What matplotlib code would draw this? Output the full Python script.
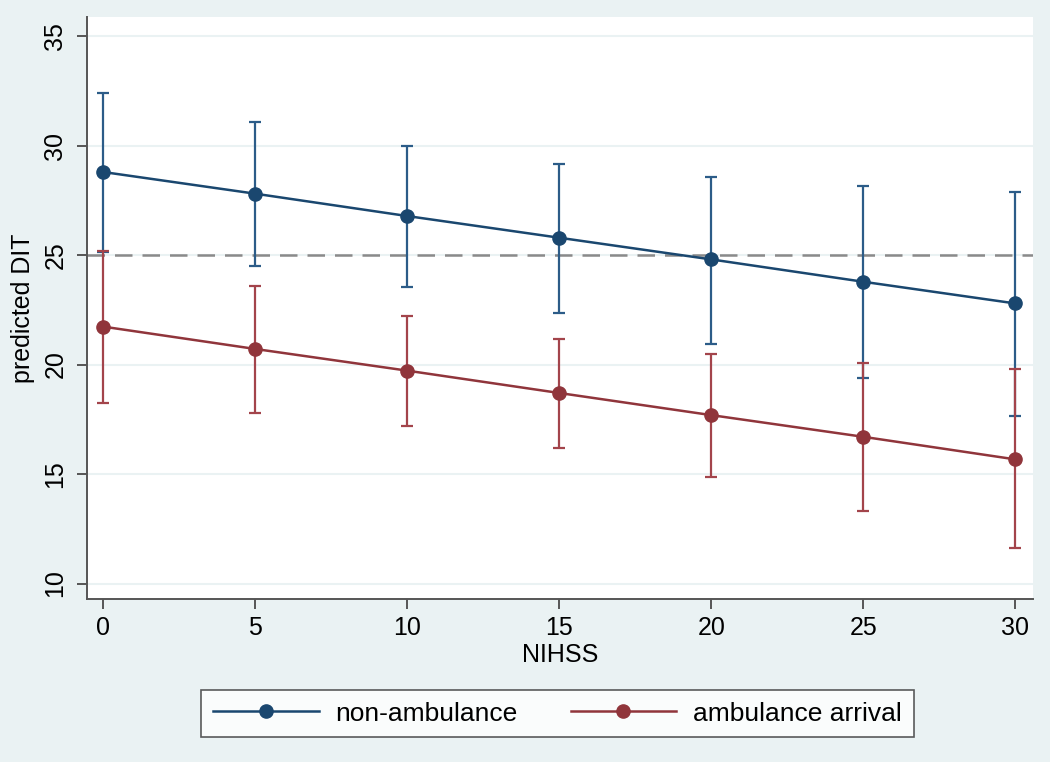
import numpy as np
import matplotlib
matplotlib.use('Agg')
import matplotlib.pyplot as plt

# data
nihss = [0, 5, 10, 15, 20, 25, 30]

non_amb = [28.79, 27.80, 26.78, 25.79, 24.80, 23.78, 22.79]
non_amb_lo = [25.15, 24.48, 23.55, 22.37, 20.94, 19.37, 17.65]
non_amb_hi = [32.41, 31.06, 29.98, 29.16, 28.58, 28.16, 27.86]

amb = [21.73, 20.71, 19.72, 18.70, 17.69, 16.70, 15.67]
amb_lo = [18.23, 17.80, 17.19, 16.20, 14.88, 13.33, 11.61]
amb_hi = [25.20, 23.58, 22.21, 21.16, 20.48, 20.05, 19.78]

ref_line = 25
yticks = [10, 15, 20, 25, 30, 35]

# colours (stata s2color)
bg = '#eaf2f3'
blue = '#1a476f'
blue_ci = '#2c5c88'
red = '#90353b'
red_ci = '#a3444b'

plt.rcParams['font.family'] = ['Liberation Sans', 'DejaVu Sans']

fig = plt.figure(figsize=(10.5, 7.62), dpi=100, facecolor=bg)
ax = fig.add_axes([0.0826, 0.2135, 0.9012, 0.7642])
ax.set_facecolor('white')

# reference line
ax.axhline(ref_line, color='#8a8a8a', lw=1.8, dashes=(7, 4), zorder=1)

# non-ambulance
y = np.array(non_amb)
err = [y - np.array(non_amb_lo), np.array(non_amb_hi) - y]
ax.errorbar(nihss, y, yerr=err, fmt='none', ecolor=blue_ci, elinewidth=1.6,
            capsize=4.3, capthick=1.6, zorder=2)
ax.plot(nihss, y, color=blue, lw=1.8, marker='o', markersize=9.5,
        label='non-ambulance', zorder=3)

# ambulance arrival
y = np.array(amb)
err = [y - np.array(amb_lo), np.array(amb_hi) - y]
ax.errorbar(nihss, y, yerr=err, fmt='none', ecolor=red_ci, elinewidth=1.6,
            capsize=4.3, capthick=1.6, zorder=4)
ax.plot(nihss, y, color=red, lw=1.8, marker='o', markersize=9.5,
        label='ambulance arrival', zorder=5)

ax.set_xlim(-0.55, 30.58)
ax.set_ylim(9.28, 35.87)
ax.set_xticks(nihss)
ax.set_yticks(yticks)
ax.grid(axis='y', color=bg, lw=1.5, zorder=0)
ax.set_axisbelow(True)

for s in ['top', 'right']:
    ax.spines[s].set_visible(False)
for s in ['left', 'bottom']:
    ax.spines[s].set_color('#555555')
    ax.spines[s].set_linewidth(1.4)

ax.tick_params(axis='both', direction='out', length=7, width=1.4,
               color='#555555', labelsize=18)
ax.tick_params(axis='x', pad=5)
ax.tick_params(axis='y', pad=7)
for lab in ax.get_yticklabels():
    lab.set_rotation(90)
    lab.set_va('center')

ax.set_xlabel('NIHSS', fontsize=18, labelpad=2)
ax.set_ylabel('predicted DIT', fontsize=18, labelpad=6)

leg = fig.legend(loc='center', bbox_to_anchor=(0.531, 0.0636), ncol=2,
                 fontsize=19, frameon=True, fancybox=False, edgecolor='#333333',
                 facecolor='white', handlelength=4, handletextpad=0.65,
                 columnspacing=2.0, borderpad=0.45)
leg.get_frame().set_linewidth(1.2)

fig.savefig('out.png', dpi=100, facecolor=bg)
